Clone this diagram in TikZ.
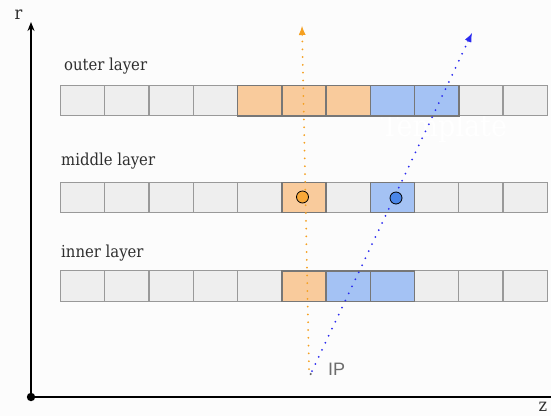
\documentclass[tikz,border=0pt]{standalone}
\usepackage{fontspec}
\setmainfont{DejaVu Serif Condensed}
\setsansfont{Liberation Sans}
\usetikzlibrary{arrows.meta,calc}
\definecolor{cellgray}{HTML}{EEEEEE}
\definecolor{cellline}{HTML}{999999}
\definecolor{darkline}{HTML}{777777}
\definecolor{lorange}{HTML}{F9CB9C}
\definecolor{lblue}{HTML}{A4C2F4}
\definecolor{dorange}{HTML}{F8A838}
\definecolor{dblue}{HTML}{4A86E8}
\definecolor{rayorange}{HTML}{F5A020}
\definecolor{rayblue}{HTML}{2A2AF0}
\definecolor{textgray}{HTML}{2E2E2E}
\definecolor{bg}{HTML}{FCFCFC}
\tikzset{
  cell/.style={draw=cellline, fill=cellgray, line width=1.1pt, minimum width=44.24pt, minimum height=30.5pt, inner sep=0pt, anchor=north west},
  ocell/.style={cell, fill=lorange, draw=darkline, line width=1.4pt},
  bcell/.style={cell, fill=lblue, draw=darkline, line width=1.4pt},
  layerlabel/.style={font=\fontsize{16.5}{18}\selectfont, text=textgray, anchor=west, inner sep=0pt},
  axis/.style={line width=1.6pt, black},
  ray/.style={line width=2pt, dash pattern=on 0pt off 7.8pt, line cap=round},
  hit/.style={circle, draw=black, line width=0.8pt, minimum size=12pt, inner sep=0pt}
}
\begin{document}
\begin{tikzpicture}[x=1pt, y=-1pt]
\fill[bg] (0,0) rectangle (551,416);
\useasboundingbox (0,0) rectangle (551,416);
% axes
\coordinate (origin) at (31,397);
\coordinate (rtop) at (31,22);
\coordinate (zend) at (551,397);
\draw[axis, -{Stealth[length=9pt,width=7pt]}] (origin) -- (rtop);
\draw[axis] (origin) -- (zend);
\fill (origin) circle (4.2pt);
\node[font=\fontsize{18}{20}\selectfont, inner sep=0pt, text=textgray] (rlab) at (18.5,15) {r};
\node[font=\fontsize{18}{20}\selectfont, inner sep=0pt, text=textgray] (zlab) at (543,407) {z};
% labels
\node[layerlabel] (outerlab) at (64,66) {outer layer};
\node[layerlabel] (middlelab) at (61,161) {middle layer};
\node[layerlabel] (innerlab) at (61,253) {inner layer};
% template watermark
\node[font=\fontsize{30}{32}\selectfont, text=white, inner sep=0pt] (tmpl) at (444,128) {Template};
% rows
\foreach \i in {1,...,11}{
  \pgfmathsetmacro{\xx}{60+(\i-1)*44.24}
  \node[cell] (o\i) at (\xx,84.8) {};
  \node[cell] (m\i) at (\xx,181.5) {};
  \node[cell] (n\i) at (\xx,270.2) {};
}
% coloured cells
\foreach \i in {5,6,7}{\pgfmathsetmacro{\xx}{60+(\i-1)*44.24}\node[ocell] (oo\i) at (\xx,84.8) {};}
\foreach \i in {8,9}{\pgfmathsetmacro{\xx}{60+(\i-1)*44.24}\node[bcell] (ob\i) at (\xx,84.8) {};}
\node[ocell] (mo6) at (281.2,181.5) {};
\node[bcell] (mb8) at (369.7,181.5) {};
\node[ocell] (no6) at (281.2,270.2) {};
\foreach \i in {7,8}{\pgfmathsetmacro{\xx}{60+(\i-1)*44.24}\node[bcell] (nb\i) at (\xx,270.2) {};}
% IP
\coordinate (ipo) at (309,369);
\coordinate (ipb) at (312,371);
\coordinate (otop) at (302,26);
\coordinate (btop) at (472,33);
\draw[ray, rayorange] (ipo) -- ($(otop)!10pt!(ipo)$) coordinate (oend);
\draw[ray, rayblue] (ipb) -- ($(btop)!10pt!(ipb)$) coordinate (bend);
\draw[rayorange, line width=0.8pt, -{Latex[length=9pt,width=7pt]}] (oend) -- (otop);
\draw[rayblue, line width=0.8pt, -{Latex[length=9pt,width=7pt]}] (bend) -- (btop);
\node[circle, fill=gray!80!black, minimum size=2.4pt, inner sep=0pt] (ip) at (310.7,374) {};
\node[font=\sffamily\fontsize{18}{20}\selectfont, text=gray!85!black, anchor=west, inner sep=0pt] (iplab) at (328,369) {IP};
% hits
\node[hit, fill=dorange] (hito) at (302.5,197) {};
\node[hit, fill=dblue] (hitb) at (396,198) {};
\end{tikzpicture}
\end{document}
